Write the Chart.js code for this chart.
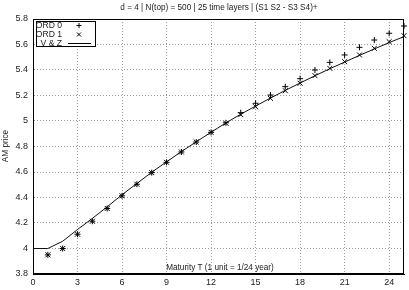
<!DOCTYPE html>
<html>
<head>
<meta charset="utf-8">
<script src="https://cdn.jsdelivr.net/npm/chart.js@4.4.1/dist/chart.umd.min.js"></script>
<style>
  html, body { margin: 0; padding: 0; background: #fff; }
  #wrap { width: 409px; height: 290px; }
</style>
</head>
<body>
<div id="wrap"><canvas id="amChart" width="409" height="290"></canvas></div>
<script>
// --- data ---
const titleText = 'd = 4 | N(top) = 500 | 25 time layers | (S1 S2 - S3 S4)+';
const xTitle = 'Maturity T (1 unit = 1/24 year)';
const yTitle = 'AM price';

// V & Z curve
const tLine = [0, 1, 2, 3, 4, 5, 6, 7, 8, 9, 10, 11, 12, 13, 14, 15, 16, 17, 18, 19, 20, 21, 22, 23, 24, 25];
const vzPrice = [4.0, 4.0, 4.057, 4.149, 4.236, 4.327, 4.422, 4.51, 4.598, 4.68, 4.76, 4.837, 4.912, 4.985,
                 5.053, 5.117, 5.18, 5.24, 5.298, 5.355, 5.41, 5.462, 5.515, 5.565, 5.615, 5.662];

// ORD 0 / ORD 1 points
const tOrd = [1, 2, 3, 4, 5, 6, 7, 8, 9, 10, 11, 12, 13, 14, 15, 16, 17, 18, 19, 20, 21, 22, 23, 24, 25];
const ord0 = [3.95, 4.0, 4.112, 4.214, 4.314, 4.413, 4.504, 4.595, 4.676, 4.757, 4.835, 4.911, 4.986,
              5.065, 5.139, 5.204, 5.269, 5.332, 5.4, 5.46, 5.518, 5.578, 5.635, 5.688, 5.745];
const ord1 = [3.95, 4.0, 4.112, 4.214, 4.314, 4.413, 4.504, 4.595, 4.676, 4.757, 4.835, 4.911, 4.982,
              5.05, 5.112, 5.178, 5.238, 5.296, 5.356, 5.413, 5.465, 5.518, 5.57, 5.622, 5.669];

const xTicks = [0, 3, 6, 9, 12, 15, 18, 21, 24];
const yTicks = [3.8, 4, 4.2, 4.4, 4.6, 4.8, 5, 5.2, 5.4, 5.6, 5.8];

const FONT = 'Liberation Sans, Arial, sans-serif';
const toXY = (xs, ys) => xs.map((x, i) => ({ x: x, y: ys[i] }));

// gnuplot-like decorations: frame, title, axis labels, key box
const decorPlugin = {
    id: 'decor',
    afterDraw(chart) {
        const ctx = chart.ctx;
        const a = chart.chartArea;
        ctx.save();
        ctx.strokeStyle = '#000';
        ctx.lineWidth = 1;
        ctx.strokeRect(a.left + 0.5, a.top + 0.5, a.right - a.left - 1, a.bottom - a.top - 1);

        ctx.fillStyle = '#222';
        ctx.font = '8.2px ' + FONT;
        ctx.textAlign = 'center';
        ctx.textBaseline = 'middle';
        ctx.fillText(titleText, 219, 8);
        ctx.fillText(xTitle, 220, 268);

        ctx.save();
        ctx.translate(6, 146);
        ctx.rotate(-Math.PI / 2);
        ctx.fillText(yTitle, 0, 0);
        ctx.restore();

        // key box
        ctx.fillStyle = '#fff';
        ctx.fillRect(36, 21, 60, 26);
        ctx.strokeStyle = '#000';
        ctx.strokeRect(36.5, 21.5, 59, 25);
        ctx.fillStyle = '#222';
        ctx.font = '8.6px ' + FONT;
        ctx.textAlign = 'right';
        const rows = ['ORD 0', 'ORD 1', 'V & Z'];
        rows.forEach((r, i) => ctx.fillText(r, 62, 26 + i * 8.8));
        ctx.strokeStyle = '#000';
        ctx.beginPath();
        ctx.moveTo(76.5, 25.5); ctx.lineTo(81.5, 25.5);
        ctx.moveTo(79, 23); ctx.lineTo(79, 28);
        ctx.moveTo(77, 32.5); ctx.lineTo(81, 36.5);
        ctx.moveTo(81, 32.5); ctx.lineTo(77, 36.5);
        ctx.moveTo(68, 43.5); ctx.lineTo(91, 43.5);
        ctx.stroke();
        ctx.restore();
    }
};

const ctx = document.getElementById('amChart').getContext('2d');
new Chart(ctx, {
    type: 'scatter',
    data: {
        datasets: [
            {
                label: 'ORD 0',
                data: toXY(tOrd, ord0),
                pointStyle: 'cross',
                pointRadius: 3,
                borderColor: '#000',
                borderWidth: 1,
                clip: false
            },
            {
                label: 'ORD 1',
                data: toXY(tOrd, ord1),
                pointStyle: 'crossRot',
                pointRadius: 3.5,
                borderColor: '#000',
                borderWidth: 1,
                clip: false
            },
            {
                label: 'V & Z',
                type: 'line',
                data: toXY(tLine, vzPrice),
                borderColor: '#111',
                borderWidth: 1,
                pointRadius: 0,
                tension: 0,
                fill: false
            }
        ]
    },
    options: {
        responsive: false,
        animation: false,
        layout: { padding: { top: 19, right: 2, left: 0, bottom: 0 } },
        plugins: {
            legend: { display: false },
            title: { display: false },
            tooltip: { enabled: false }
        },
        scales: {
            x: {
                type: 'linear',
                min: 0, max: 25,
                afterFit(scale) { scale.height = 16; },
                afterBuildTicks(scale) { scale.ticks = xTicks.map(v => ({ value: v })); },
                ticks: { color: '#222', font: { family: FONT, size: 9 }, padding: 3, maxRotation: 0 },
                grid: { color: '#999', drawTicks: false },
                border: { color: '#000', dash: [1, 2] }
            },
            y: {
                min: 3.8, max: 5.8,
                afterFit(scale) { scale.width = 33; },
                afterBuildTicks(scale) { scale.ticks = yTicks.map(v => ({ value: v })); },
                ticks: {
                    color: '#222', font: { family: FONT, size: 9 }, padding: 5,
                    callback: v => String(Math.round(v * 10) / 10)
                },
                grid: { color: '#999', drawTicks: false },
                border: { color: '#000', dash: [1, 2] }
            }
        }
    },
    plugins: [decorPlugin]
});
</script>
</body>
</html>
